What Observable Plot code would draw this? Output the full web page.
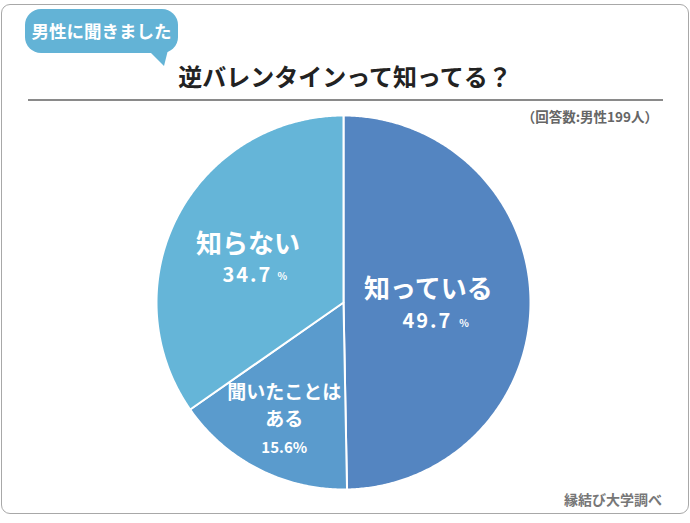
<!DOCTYPE html>
<html>
<head>
<meta charset="utf-8">
<script src="https://cdn.jsdelivr.net/npm/d3@7"></script>
<script src="https://cdn.jsdelivr.net/npm/@observablehq/plot@0.6"></script>
<style>
  html, body { margin: 0; padding: 0; background: #fff; }
  body { font-family: "Noto Sans CJK JP", "Noto Sans", sans-serif; }
  #wrap { position: relative; width: 690px; height: 523px; overflow: hidden; }
  #card { position: absolute; left: 1px; top: 4px; width: 688px; height: 510px; box-sizing: border-box;
          border: 1.5px solid #a8a8a8; border-radius: 9px; }
  #badge { position: absolute; left: 25px; top: 9px; width: 153px; height: 44px; border-radius: 16px;
           background: #63B3D6; color: #fff; font-weight: 700; font-size: 17.5px; line-height: 44px;
           text-align: center; letter-spacing: 0px; }
  #tail { position: absolute; left: 148px; top: 50px; width: 20px; height: 16px; background: #63B3D6;
          clip-path: polygon(0 0, 100% 0, 80% 100%); }
  #title { position: absolute; left: 0; width: 690px; top: 63px; text-align: center; font-size: 24px;
           font-weight: 700; line-height: 26px; color: #222; padding-left: 0px; }
  #rule { position: absolute; left: 28px; top: 99px; width: 635px; height: 2px; background: #8a8a8a; }
  #note { position: absolute; right: 32px; top: 106px; font-size: 13.5px; color: #666; font-weight: 700; line-height: 20px; }
  #caption { position: absolute; right: 28px; top: 489px; font-size: 14px; color: #777; font-weight: 700; line-height: 20px; }
  #pie { position: absolute; left: 153px; top: 112px; }
</style>
</head>
<body>
<div id="wrap">
  <div id="card"></div>
  <div id="badge">男性に聞きました</div>
  <div id="tail"></div>
  <div id="title">逆バレンタインって知ってる？</div>
  <div id="rule"></div>
  <div id="note">（回答数:男性199人）</div>
  <div id="pie"></div>
  <div id="caption">縁結び大学調べ</div>
</div>
<script>
// ---- data ----
const categories = ["知っている", "聞いたことはある", "知らない"];
const values = [49.7, 15.6, 34.7];
const colors = ["#5485C1", "#5A9BCD", "#65B5D8"];

// ---- layout of labels (style only: radial fraction + pixel offsets) ----
const labelFrac = 0.58;
const labelLines = [
  {i: 0, kind: "name",  size: 26, dx: -23.5, dy: -12},
  {i: 0, kind: "value", size: 20, dx: -24.5, dy: 20},
  {i: 0, kind: "pct",   size: 10, dx: 12,    dy: 22},
  {i: 2, kind: "name",  size: 26, dx: 0.7,   dy: -8},
  {i: 2, kind: "value", size: 20, dx: 0,     dy: 23},
  {i: 2, kind: "pct",   size: 10, dx: 35,    dy: 24},
  {i: 1, kind: "name1", size: 19, dx: -10,   dy: -6},
  {i: 1, kind: "name2", size: 19, dx: -10,   dy: 21},
  {i: 1, kind: "valuepct", size: 15, dx: -10, dy: 49}
];

const data = categories.map((c, i) => ({category: c, value: values[i]}));
const arcs = d3.pie().sort(null).value(d => d.value)(data);

// polygon points for each slice (angle 0 at 12 o'clock, clockwise)
const points = [];
arcs.forEach(a => {
  const cat = a.data.category;
  points.push({category: cat, x: 0, y: 0});
  const n = Math.max(2, Math.ceil((a.endAngle - a.startAngle) / (Math.PI / 360)));
  for (let k = 0; k <= n; k++) {
    const t = a.startAngle + (a.endAngle - a.startAngle) * k / n;
    points.push({category: cat, x: Math.sin(t), y: Math.cos(t)});
  }
  points.push({category: cat, x: 0, y: 0});
});

function labelText(L) {
  const d = arcs[L.i].data;
  switch (L.kind) {
    case "name": return d.category;
    case "name1": return d.category.slice(0, 6);
    case "name2": return d.category.slice(6);
    case "value": return d.value.toFixed(1);
    case "pct": return "%";
    case "valuepct": return d.value.toFixed(1) + "%";
  }
}

const textMarks = labelLines.map(L => {
  const a = arcs[L.i];
  const mid = (a.startAngle + a.endAngle) / 2;
  const row = {x: Math.sin(mid) * labelFrac, y: Math.cos(mid) * labelFrac, text: labelText(L)};
  return Plot.text([row], {
    x: "x", y: "y", text: "text",
    fill: "white", fontSize: L.size, fontWeight: "bold",
    fontFamily: "'Noto Sans CJK JP', 'Noto Sans', sans-serif",
    dx: L.dx, dy: L.dy
  });
});

const chart = Plot.plot({
  width: 380,
  height: 380,
  margin: 3,
  x: {domain: [-1, 1], axis: null},
  y: {domain: [-1, 1], axis: null},
  color: {domain: categories, range: colors},
  marks: [
    Plot.line(points, {x: "x", y: "y", z: "category", fill: "category", stroke: "white", strokeWidth: 2, strokeLinejoin: "round"}),
    ...textMarks
  ]
});
document.getElementById("pie").appendChild(chart);

// letter spacing on the big numbers
chart.querySelectorAll("text").forEach(t => {
  if (/^\d+\.\d$/.test(t.textContent)) t.setAttribute("letter-spacing", "2");
});
</script>
</body>
</html>
